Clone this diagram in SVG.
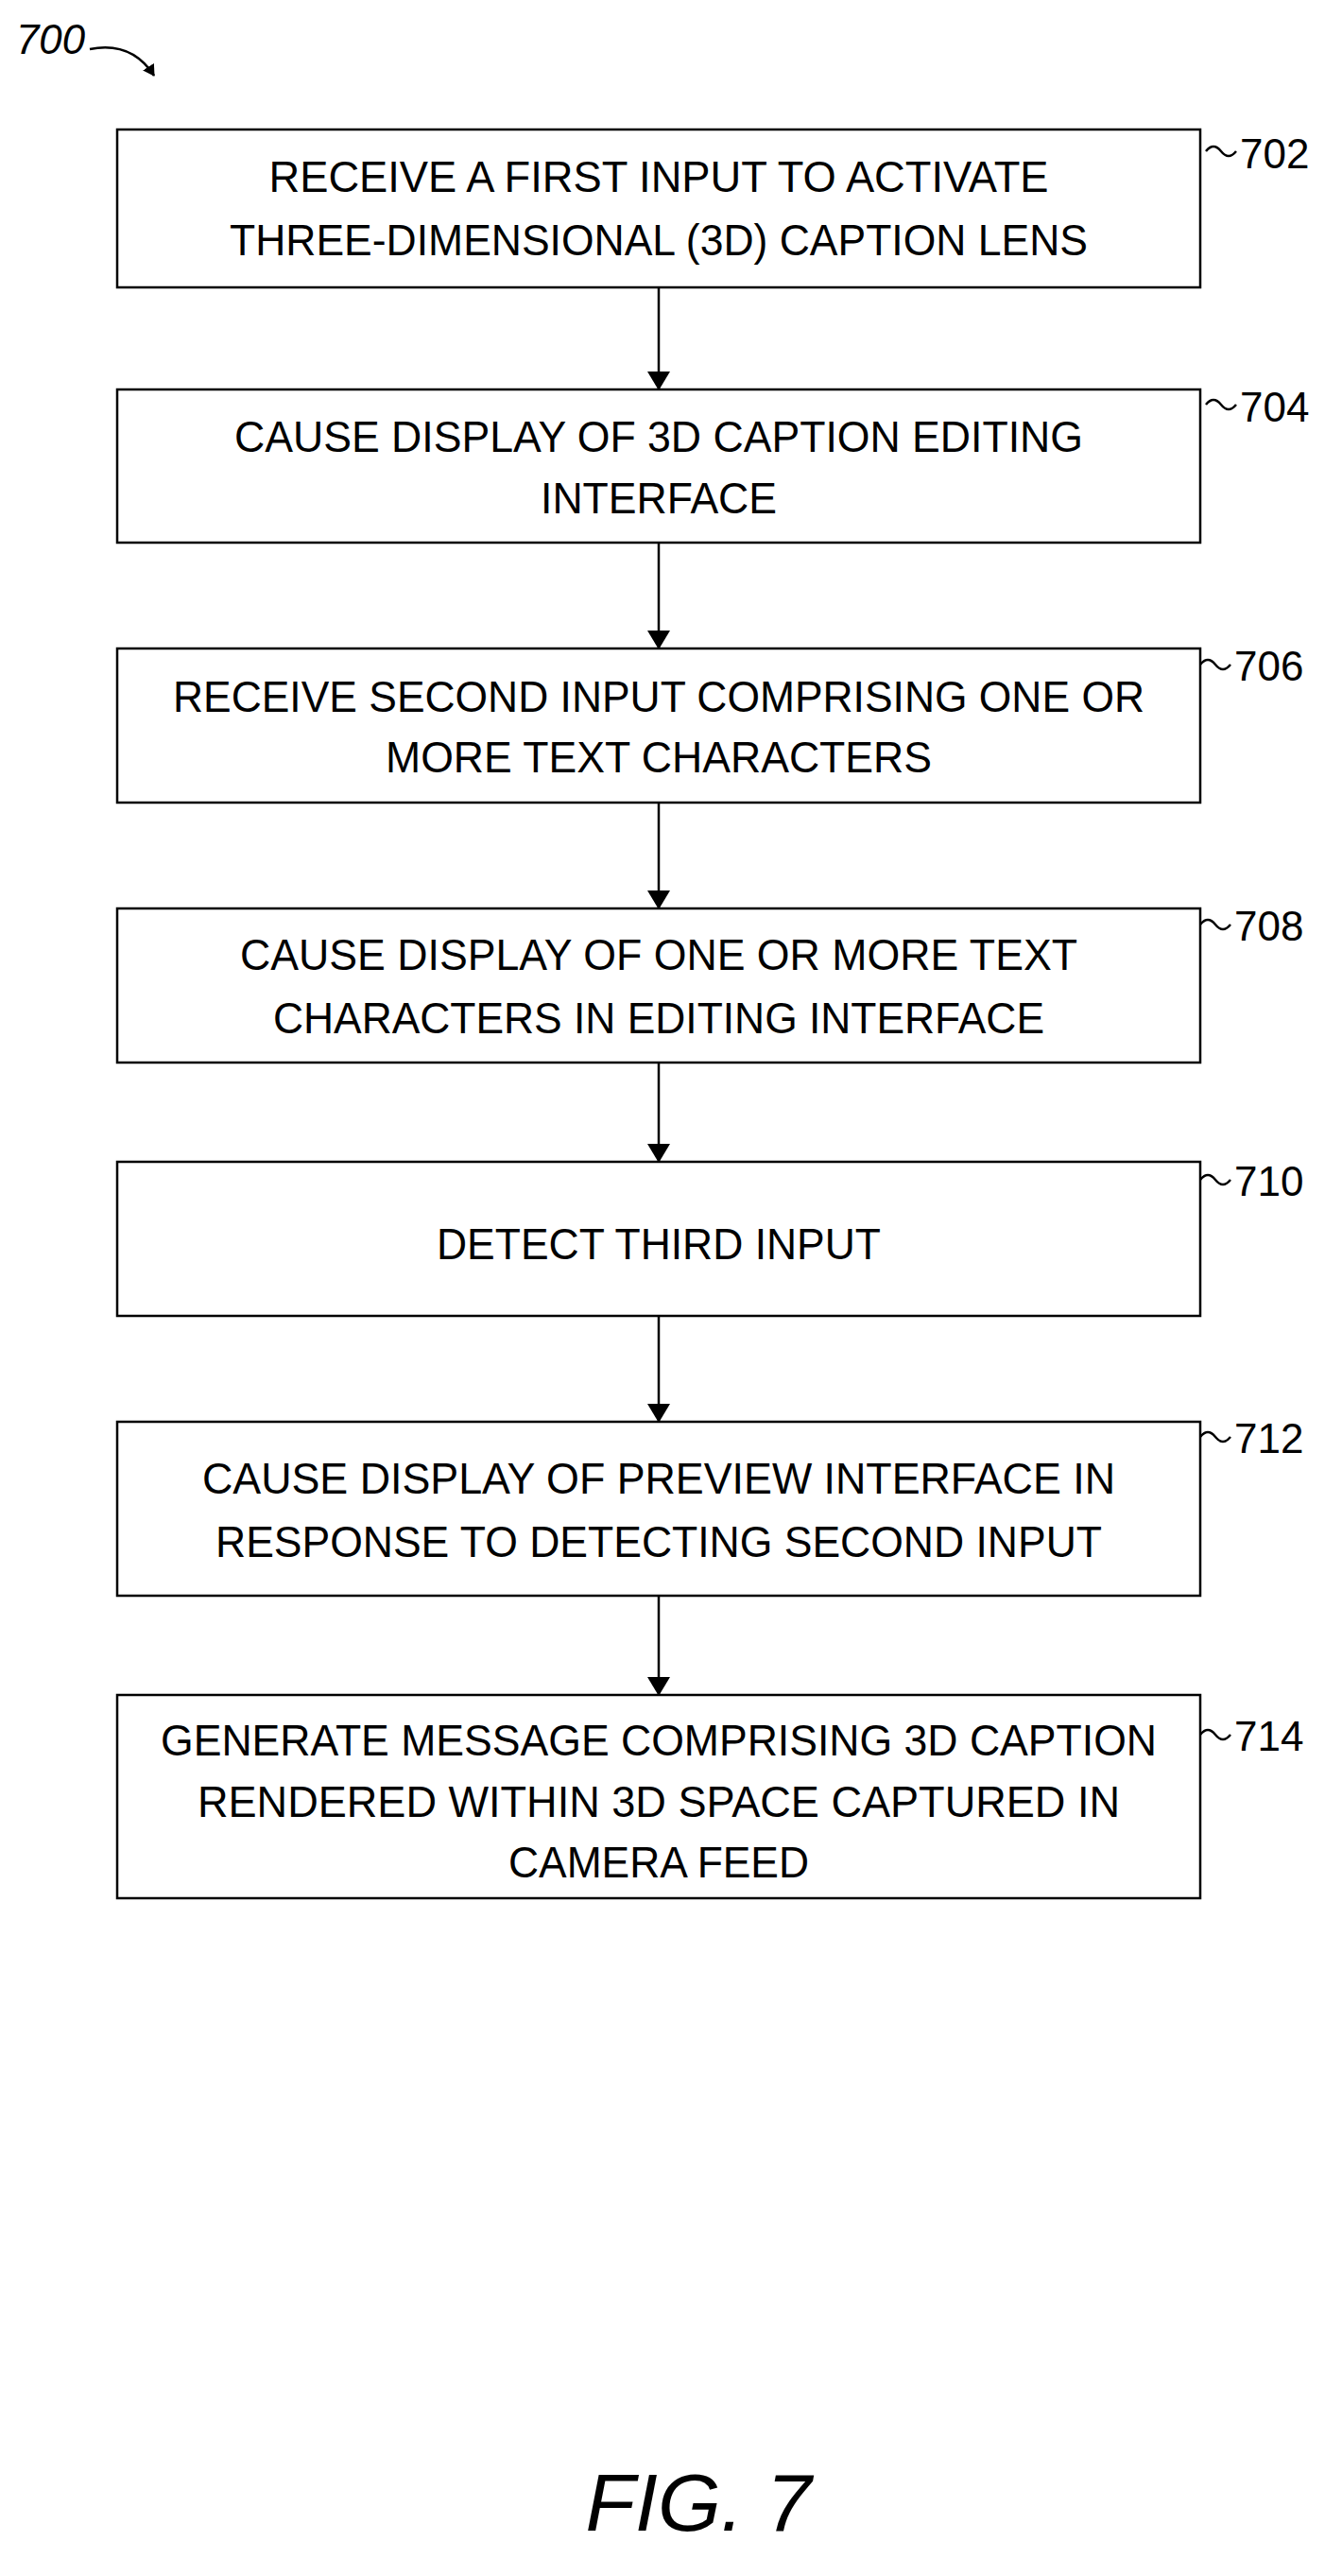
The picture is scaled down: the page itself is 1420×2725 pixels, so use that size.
<svg xmlns="http://www.w3.org/2000/svg" width="1420" height="2725" viewBox="0 0 1420 2725">
<style>
.b{fill:#fff;stroke:#000;stroke-width:2.5}
.t{font-family:"Liberation Sans",Arial,sans-serif;font-size:46px;text-anchor:middle;fill:#000}
.r{font-family:"Liberation Sans",Arial,sans-serif;font-size:44px;fill:#000}
.c{stroke:#000;stroke-width:2.5;fill:none}
</style>
<defs><marker id="a" markerWidth="12" markerHeight="14" refX="11" refY="7" orient="auto" markerUnits="userSpaceOnUse" viewBox="0 0 12 14"><path d="M0,0 L12,7 L0,14 Z" fill="#000"/></marker>
<marker id="a2" markerWidth="20" markerHeight="24" refX="18" refY="12" orient="auto" markerUnits="userSpaceOnUse" viewBox="0 0 20 24"><path d="M0,0 L20,12 L0,24 Z" fill="#000"/></marker></defs>
<rect width="1420" height="2725" fill="#fff"/>
<g id="title"><text x="17" y="57" font-family="Liberation Sans,sans-serif" font-size="44" font-style="italic" textLength="73" lengthAdjust="spacingAndGlyphs">700</text>
<path class="c" d="M95,52 C130,45 150,60 163,80" marker-end="url(#a)"/></g>
<g id="connectors">
<line class="c" x1="697" y1="304" x2="697" y2="411" marker-end="url(#a2)"/>
<line class="c" x1="697" y1="574" x2="697" y2="685" marker-end="url(#a2)"/>
<line class="c" x1="697" y1="849" x2="697" y2="960" marker-end="url(#a2)"/>
<line class="c" x1="697" y1="1124" x2="697" y2="1228" marker-end="url(#a2)"/>
<line class="c" x1="697" y1="1392" x2="697" y2="1503" marker-end="url(#a2)"/>
<line class="c" x1="697" y1="1688" x2="697" y2="1792" marker-end="url(#a2)"/>
</g>
<g id="n702"><rect class="b" x="124" y="137" width="1146" height="167"/>
<text class="t" x="697" y="203" textLength="825" lengthAdjust="spacingAndGlyphs">RECEIVE A FIRST INPUT TO ACTIVATE</text>
<text class="t" x="697" y="270" textLength="908" lengthAdjust="spacingAndGlyphs">THREE-DIMENSIONAL (3D) CAPTION LENS</text>
<path class="c" d="M1276,160 q8,-10 16,0 t16,0" stroke-width="2"/><text class="r" x="1312" y="178">702</text></g>
<g id="n704"><rect class="b" x="124" y="412" width="1146" height="162"/>
<text class="t" x="697" y="478" textLength="898" lengthAdjust="spacingAndGlyphs">CAUSE DISPLAY OF 3D CAPTION EDITING</text>
<text class="t" x="697" y="543" textLength="250" lengthAdjust="spacingAndGlyphs">INTERFACE</text>
<path class="c" d="M1276,428 q8,-10 16,0 t16,0" stroke-width="2"/><text class="r" x="1312" y="446">704</text></g>
<g id="n706"><rect class="b" x="124" y="686" width="1146" height="163"/>
<text class="t" x="697" y="753" textLength="1028" lengthAdjust="spacingAndGlyphs">RECEIVE SECOND INPUT COMPRISING ONE OR</text>
<text class="t" x="697" y="817" textLength="578" lengthAdjust="spacingAndGlyphs">MORE TEXT CHARACTERS</text>
<path class="c" d="M1270,703 q8,-10 16,0 t16,0" stroke-width="2"/><text class="r" x="1306" y="720">706</text></g>
<g id="n708"><rect class="b" x="124" y="961" width="1146" height="163"/>
<text class="t" x="697" y="1026" textLength="886" lengthAdjust="spacingAndGlyphs">CAUSE DISPLAY OF ONE OR MORE TEXT</text>
<text class="t" x="697" y="1093" textLength="816" lengthAdjust="spacingAndGlyphs">CHARACTERS IN EDITING INTERFACE</text>
<path class="c" d="M1270,978 q8,-10 16,0 t16,0" stroke-width="2"/><text class="r" x="1306" y="995">708</text></g>
<g id="n710"><rect class="b" x="124" y="1229" width="1146" height="163"/>
<text class="t" x="697" y="1332" textLength="470" lengthAdjust="spacingAndGlyphs">DETECT THIRD INPUT</text>
<path class="c" d="M1270,1248 q8,-10 16,0 t16,0" stroke-width="2"/><text class="r" x="1306" y="1265">710</text></g>
<g id="n712"><rect class="b" x="124" y="1504" width="1146" height="184"/>
<text class="t" x="697" y="1580" textLength="966" lengthAdjust="spacingAndGlyphs">CAUSE DISPLAY OF PREVIEW INTERFACE IN</text>
<text class="t" x="697" y="1647" textLength="938" lengthAdjust="spacingAndGlyphs">RESPONSE TO DETECTING SECOND INPUT</text>
<path class="c" d="M1270,1520 q8,-10 16,0 t16,0" stroke-width="2"/><text class="r" x="1306" y="1537">712</text></g>
<g id="n714"><rect class="b" x="124" y="1793" width="1146" height="215"/>
<text class="t" x="697" y="1857" textLength="1054" lengthAdjust="spacingAndGlyphs">GENERATE MESSAGE COMPRISING 3D CAPTION</text>
<text class="t" x="697" y="1922" textLength="976" lengthAdjust="spacingAndGlyphs">RENDERED WITHIN 3D SPACE CAPTURED IN</text>
<text class="t" x="697" y="1986" textLength="318" lengthAdjust="spacingAndGlyphs">CAMERA FEED</text>
<path class="c" d="M1270,1835 q8,-10 16,0 t16,0" stroke-width="2"/><text class="r" x="1306" y="1852">714</text></g>
<g id="fig"><text x="739" y="2677" font-family="Liberation Sans,sans-serif" font-size="86" font-style="italic" text-anchor="middle">FIG. 7</text></g>
</svg>
